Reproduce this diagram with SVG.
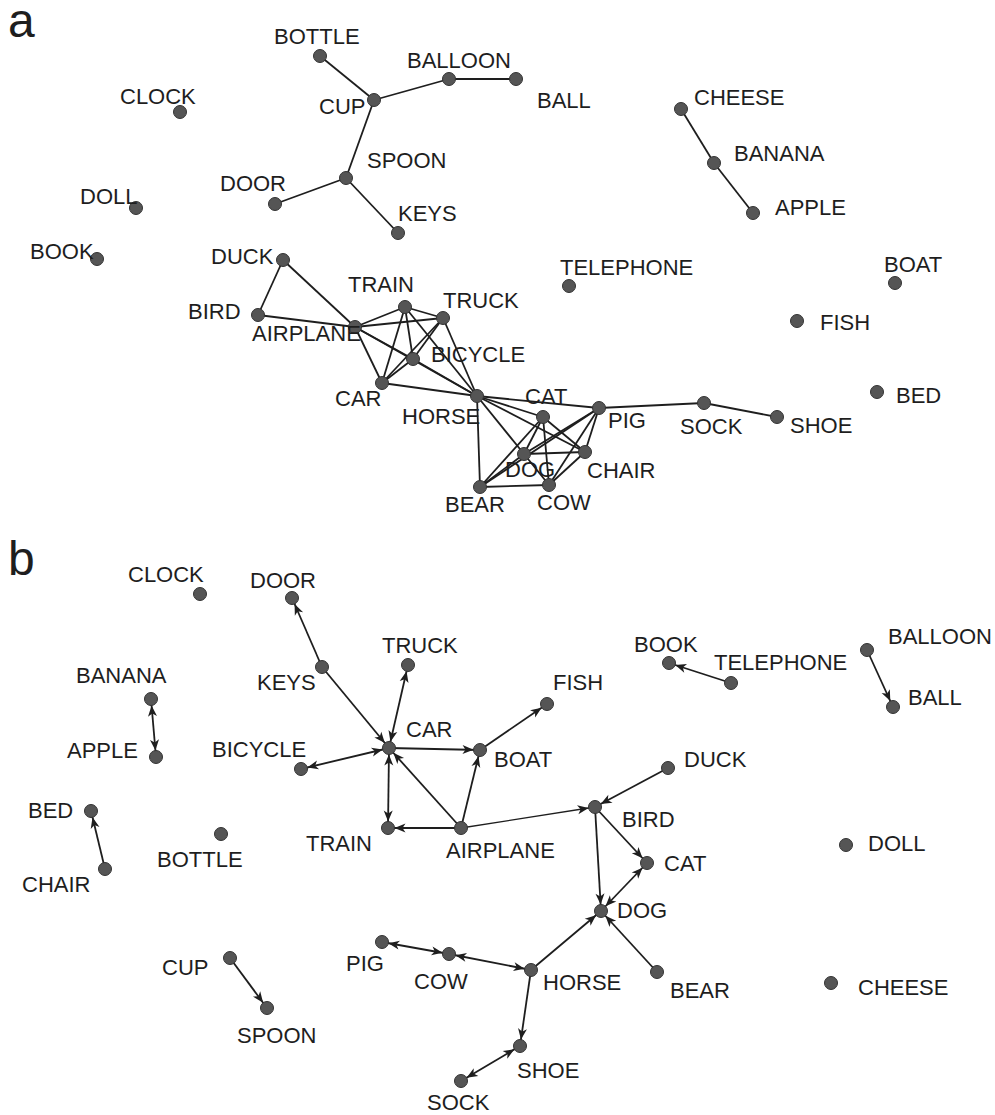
<svg xmlns="http://www.w3.org/2000/svg" width="995" height="1115" viewBox="0 0 995 1115">
<style>
.e{stroke:#1e1e1e;stroke-width:1.8;fill:none}
.d{stroke:#1e1e1e;stroke-width:1.8;fill:none;marker-end:url(#ah)}
.b{stroke:#1e1e1e;stroke-width:1.8;fill:none;marker-end:url(#ah);marker-start:url(#ah)}
.n circle{fill:#555;stroke:#333;stroke-width:1}
text{font-family:"Liberation Sans",Arial,sans-serif;font-size:22px;fill:#1e1e1e}
.p{font-size:48px}
</style>
<defs>
<marker id="ah" markerUnits="userSpaceOnUse" markerWidth="12" markerHeight="10" viewBox="0 0 12 10" refX="17.5" refY="5" orient="auto-start-reverse" overflow="visible">
<path d="M0,0.5 L11,5 L0,9.5 L3,5 z" fill="#1e1e1e"/>
</marker>
</defs>
<text class="p" x="8" y="37">a</text>
<text class="p" x="8" y="575">b</text>
<g id="edges-a">
<line class="e" x1="320" y1="56" x2="374" y2="100"/>
<line class="e" x1="374" y1="100" x2="449" y2="79"/>
<line class="e" x1="449" y1="79" x2="516" y2="79"/>
<line class="e" x1="374" y1="100" x2="346" y2="178"/>
<line class="e" x1="346" y1="178" x2="275" y2="204"/>
<line class="e" x1="346" y1="178" x2="398" y2="233"/>
<line class="e" x1="681" y1="109" x2="714" y2="163"/>
<line class="e" x1="714" y1="163" x2="753" y2="213"/>
<line class="e" x1="283" y1="260" x2="258" y2="315"/>
<line class="e" x1="283" y1="260" x2="355" y2="327"/>
<line class="e" x1="258" y1="315" x2="355" y2="327"/>
<line class="e" x1="355" y1="327" x2="405" y2="307"/>
<line class="e" x1="355" y1="327" x2="443" y2="318"/>
<line class="e" x1="355" y1="327" x2="413" y2="359"/>
<line class="e" x1="355" y1="327" x2="382" y2="383"/>
<line class="e" x1="355" y1="327" x2="477" y2="396"/>
<line class="e" x1="405" y1="307" x2="443" y2="318"/>
<line class="e" x1="405" y1="307" x2="413" y2="359"/>
<line class="e" x1="405" y1="307" x2="382" y2="383"/>
<line class="e" x1="405" y1="307" x2="477" y2="396"/>
<line class="e" x1="443" y1="318" x2="413" y2="359"/>
<line class="e" x1="443" y1="318" x2="382" y2="383"/>
<line class="e" x1="443" y1="318" x2="477" y2="396"/>
<line class="e" x1="413" y1="359" x2="382" y2="383"/>
<line class="e" x1="413" y1="359" x2="477" y2="396"/>
<line class="e" x1="382" y1="383" x2="477" y2="396"/>
<line class="e" x1="477" y1="396" x2="599" y2="408"/>
<line class="e" x1="477" y1="396" x2="543" y2="417"/>
<line class="e" x1="477" y1="396" x2="585" y2="452"/>
<line class="e" x1="477" y1="396" x2="524" y2="454"/>
<line class="e" x1="477" y1="396" x2="480" y2="487"/>
<line class="e" x1="543" y1="417" x2="524" y2="454"/>
<line class="e" x1="543" y1="417" x2="585" y2="452"/>
<line class="e" x1="543" y1="417" x2="549" y2="485"/>
<line class="e" x1="543" y1="417" x2="480" y2="487"/>
<line class="e" x1="599" y1="408" x2="524" y2="454"/>
<line class="e" x1="599" y1="408" x2="585" y2="452"/>
<line class="e" x1="599" y1="408" x2="549" y2="485"/>
<line class="e" x1="599" y1="408" x2="480" y2="487"/>
<line class="e" x1="524" y1="454" x2="585" y2="452"/>
<line class="e" x1="524" y1="454" x2="480" y2="487"/>
<line class="e" x1="524" y1="454" x2="549" y2="485"/>
<line class="e" x1="585" y1="452" x2="549" y2="485"/>
<line class="e" x1="480" y1="487" x2="549" y2="485"/>
<line class="e" x1="599" y1="408" x2="704" y2="403"/>
<line class="e" x1="704" y1="403" x2="777" y2="417"/>
</g>
<g id="edges-b">
<line class="d" x1="322" y1="667" x2="292" y2="598"/>
<line class="d" x1="322" y1="667" x2="389" y2="748"/>
<line class="b" x1="389" y1="748" x2="408" y2="665"/>
<line class="b" x1="389" y1="748" x2="301" y2="769"/>
<line class="d" x1="389" y1="748" x2="480" y2="750"/>
<line class="b" x1="389" y1="748" x2="388" y2="828"/>
<line class="d" x1="461" y1="828" x2="389" y2="748"/>
<line class="d" x1="461" y1="828" x2="480" y2="750"/>
<line class="d" x1="461" y1="828" x2="388" y2="828"/>
<line class="d" x1="461" y1="828" x2="595" y2="807" style="stroke-width:1.3"/>
<line class="d" x1="480" y1="750" x2="547" y2="704"/>
<line class="d" x1="731" y1="683" x2="669" y2="663"/>
<line class="d" x1="867" y1="650" x2="893" y2="707"/>
<line class="b" x1="151" y1="699" x2="156" y2="757"/>
<line class="d" x1="105" y1="869" x2="91" y2="811"/>
<line class="d" x1="230" y1="958" x2="267" y2="1008"/>
<line class="d" x1="668" y1="768" x2="595" y2="807"/>
<line class="d" x1="595" y1="807" x2="647" y2="863"/>
<line class="d" x1="595" y1="807" x2="601" y2="911"/>
<line class="b" x1="647" y1="863" x2="601" y2="911"/>
<line class="d" x1="531" y1="970" x2="601" y2="911"/>
<line class="d" x1="657" y1="972" x2="601" y2="911"/>
<line class="b" x1="382" y1="942" x2="449" y2="954"/>
<line class="b" x1="449" y1="954" x2="531" y2="970"/>
<line class="d" x1="531" y1="970" x2="520" y2="1046"/>
<line class="b" x1="520" y1="1046" x2="461" y2="1081"/>
</g>
<g id="a-CLOCK" class="n"><circle cx="180" cy="112" r="6.5"/><text x="120" y="104">CLOCK</text></g>
<g id="a-BOTTLE" class="n"><circle cx="320" cy="56" r="6.5"/><text x="274" y="44">BOTTLE</text></g>
<g id="a-CUP" class="n"><circle cx="374" cy="100" r="6.5"/><text x="319" y="114">CUP</text></g>
<g id="a-BALLOON" class="n"><circle cx="449" cy="79" r="6.5"/><text x="407" y="68">BALLOON</text></g>
<g id="a-BALL" class="n"><circle cx="516" cy="79" r="6.5"/><text x="537" y="108">BALL</text></g>
<g id="a-SPOON" class="n"><circle cx="346" cy="178" r="6.5"/><text x="367" y="168">SPOON</text></g>
<g id="a-DOOR" class="n"><circle cx="275" cy="204" r="6.5"/><text x="220" y="191">DOOR</text></g>
<g id="a-KEYS" class="n"><circle cx="398" cy="233" r="6.5"/><text x="398" y="221">KEYS</text></g>
<g id="a-DOLL" class="n"><circle cx="136" cy="208" r="6.5"/><text x="80" y="204">DOLL</text></g>
<g id="a-BOOK" class="n"><circle cx="97" cy="259" r="6.5"/><text x="30" y="259">BOOK</text></g>
<g id="a-CHEESE" class="n"><circle cx="681" cy="109" r="6.5"/><text x="694" y="105">CHEESE</text></g>
<g id="a-BANANA" class="n"><circle cx="714" cy="163" r="6.5"/><text x="734" y="161">BANANA</text></g>
<g id="a-APPLE" class="n"><circle cx="753" cy="213" r="6.5"/><text x="775" y="215">APPLE</text></g>
<g id="a-TELEPHONE" class="n"><circle cx="569" cy="286" r="6.5"/><text x="560" y="275">TELEPHONE</text></g>
<g id="a-BOAT" class="n"><circle cx="895" cy="283" r="6.5"/><text x="884" y="272">BOAT</text></g>
<g id="a-FISH" class="n"><circle cx="797" cy="321" r="6.5"/><text x="820" y="330">FISH</text></g>
<g id="a-BED" class="n"><circle cx="877" cy="392" r="6.5"/><text x="896" y="403">BED</text></g>
<g id="a-DUCK" class="n"><circle cx="283" cy="260" r="6.5"/><text x="211" y="264">DUCK</text></g>
<g id="a-BIRD" class="n"><circle cx="258" cy="315" r="6.5"/><text x="188" y="319">BIRD</text></g>
<g id="a-AIRPLANE" class="n"><circle cx="355" cy="327" r="6.5"/><text x="252" y="341">AIRPLANE</text></g>
<g id="a-TRAIN" class="n"><circle cx="405" cy="307" r="6.5"/><text x="348" y="292">TRAIN</text></g>
<g id="a-TRUCK" class="n"><circle cx="443" cy="318" r="6.5"/><text x="443" y="308">TRUCK</text></g>
<g id="a-BICYCLE" class="n"><circle cx="413" cy="359" r="6.5"/><text x="431" y="362">BICYCLE</text></g>
<g id="a-CAR" class="n"><circle cx="382" cy="383" r="6.5"/><text x="335" y="406">CAR</text></g>
<g id="a-HORSE" class="n"><circle cx="477" cy="396" r="6.5"/><text x="402" y="424">HORSE</text></g>
<g id="a-CAT" class="n"><circle cx="543" cy="417" r="6.5"/><text x="525" y="404">CAT</text></g>
<g id="a-PIG" class="n"><circle cx="599" cy="408" r="6.5"/><text x="608" y="428">PIG</text></g>
<g id="a-SOCK" class="n"><circle cx="704" cy="403" r="6.5"/><text x="680" y="434">SOCK</text></g>
<g id="a-SHOE" class="n"><circle cx="777" cy="417" r="6.5"/><text x="790" y="433">SHOE</text></g>
<g id="a-DOG" class="n"><circle cx="524" cy="454" r="6.5"/><text x="505" y="477">DOG</text></g>
<g id="a-CHAIR" class="n"><circle cx="585" cy="452" r="6.5"/><text x="587" y="478">CHAIR</text></g>
<g id="a-BEAR" class="n"><circle cx="480" cy="487" r="6.5"/><text x="445" y="512">BEAR</text></g>
<g id="a-COW" class="n"><circle cx="549" cy="485" r="6.5"/><text x="537" y="510">COW</text></g>
<g id="b-CLOCK" class="n"><circle cx="200" cy="594" r="6.5"/><text x="128" y="582">CLOCK</text></g>
<g id="b-DOOR" class="n"><circle cx="292" cy="598" r="6.5"/><text x="250" y="588">DOOR</text></g>
<g id="b-KEYS" class="n"><circle cx="322" cy="667" r="6.5"/><text x="257" y="690">KEYS</text></g>
<g id="b-TRUCK" class="n"><circle cx="408" cy="665" r="6.5"/><text x="382" y="653">TRUCK</text></g>
<g id="b-BANANA" class="n"><circle cx="151" cy="699" r="6.5"/><text x="76" y="683">BANANA</text></g>
<g id="b-APPLE" class="n"><circle cx="156" cy="757" r="6.5"/><text x="67" y="758">APPLE</text></g>
<g id="b-BICYCLE" class="n"><circle cx="301" cy="769" r="6.5"/><text x="212" y="757">BICYCLE</text></g>
<g id="b-CAR" class="n"><circle cx="389" cy="748" r="6.5"/><text x="406" y="737">CAR</text></g>
<g id="b-BOAT" class="n"><circle cx="480" cy="750" r="6.5"/><text x="494" y="767">BOAT</text></g>
<g id="b-FISH" class="n"><circle cx="547" cy="704" r="6.5"/><text x="553" y="690">FISH</text></g>
<g id="b-BOOK" class="n"><circle cx="669" cy="663" r="6.5"/><text x="634" y="652">BOOK</text></g>
<g id="b-TELEPHONE" class="n"><circle cx="731" cy="683" r="6.5"/><text x="714" y="670">TELEPHONE</text></g>
<g id="b-BALLOON" class="n"><circle cx="867" cy="650" r="6.5"/><text x="888" y="644">BALLOON</text></g>
<g id="b-BALL" class="n"><circle cx="893" cy="707" r="6.5"/><text x="908" y="705">BALL</text></g>
<g id="b-DUCK" class="n"><circle cx="668" cy="768" r="6.5"/><text x="684" y="767">DUCK</text></g>
<g id="b-BIRD" class="n"><circle cx="595" cy="807" r="6.5"/><text x="622" y="827">BIRD</text></g>
<g id="b-CAT" class="n"><circle cx="647" cy="863" r="6.5"/><text x="664" y="871">CAT</text></g>
<g id="b-DOG" class="n"><circle cx="601" cy="911" r="6.5"/><text x="617" y="918">DOG</text></g>
<g id="b-DOLL" class="n"><circle cx="846" cy="845" r="6.5"/><text x="868" y="851">DOLL</text></g>
<g id="b-BED" class="n"><circle cx="91" cy="811" r="6.5"/><text x="28" y="818">BED</text></g>
<g id="b-CHAIR" class="n"><circle cx="105" cy="869" r="6.5"/><text x="22" y="892">CHAIR</text></g>
<g id="b-BOTTLE" class="n"><circle cx="221" cy="834" r="6.5"/><text x="157" y="867">BOTTLE</text></g>
<g id="b-TRAIN" class="n"><circle cx="388" cy="828" r="6.5"/><text x="306" y="851">TRAIN</text></g>
<g id="b-AIRPLANE" class="n"><circle cx="461" cy="828" r="6.5"/><text x="446" y="858">AIRPLANE</text></g>
<g id="b-PIG" class="n"><circle cx="382" cy="942" r="6.5"/><text x="346" y="971">PIG</text></g>
<g id="b-COW" class="n"><circle cx="449" cy="954" r="6.5"/><text x="414" y="989">COW</text></g>
<g id="b-HORSE" class="n"><circle cx="531" cy="970" r="6.5"/><text x="543" y="990">HORSE</text></g>
<g id="b-BEAR" class="n"><circle cx="657" cy="972" r="6.5"/><text x="670" y="998">BEAR</text></g>
<g id="b-CHEESE" class="n"><circle cx="831" cy="983" r="6.5"/><text x="858" y="995">CHEESE</text></g>
<g id="b-CUP" class="n"><circle cx="230" cy="958" r="6.5"/><text x="162" y="975">CUP</text></g>
<g id="b-SPOON" class="n"><circle cx="267" cy="1008" r="6.5"/><text x="237" y="1043">SPOON</text></g>
<g id="b-SHOE" class="n"><circle cx="520" cy="1046" r="6.5"/><text x="517" y="1078">SHOE</text></g>
<g id="b-SOCK" class="n"><circle cx="461" cy="1081" r="6.5"/><text x="427" y="1110">SOCK</text></g>
</svg>
